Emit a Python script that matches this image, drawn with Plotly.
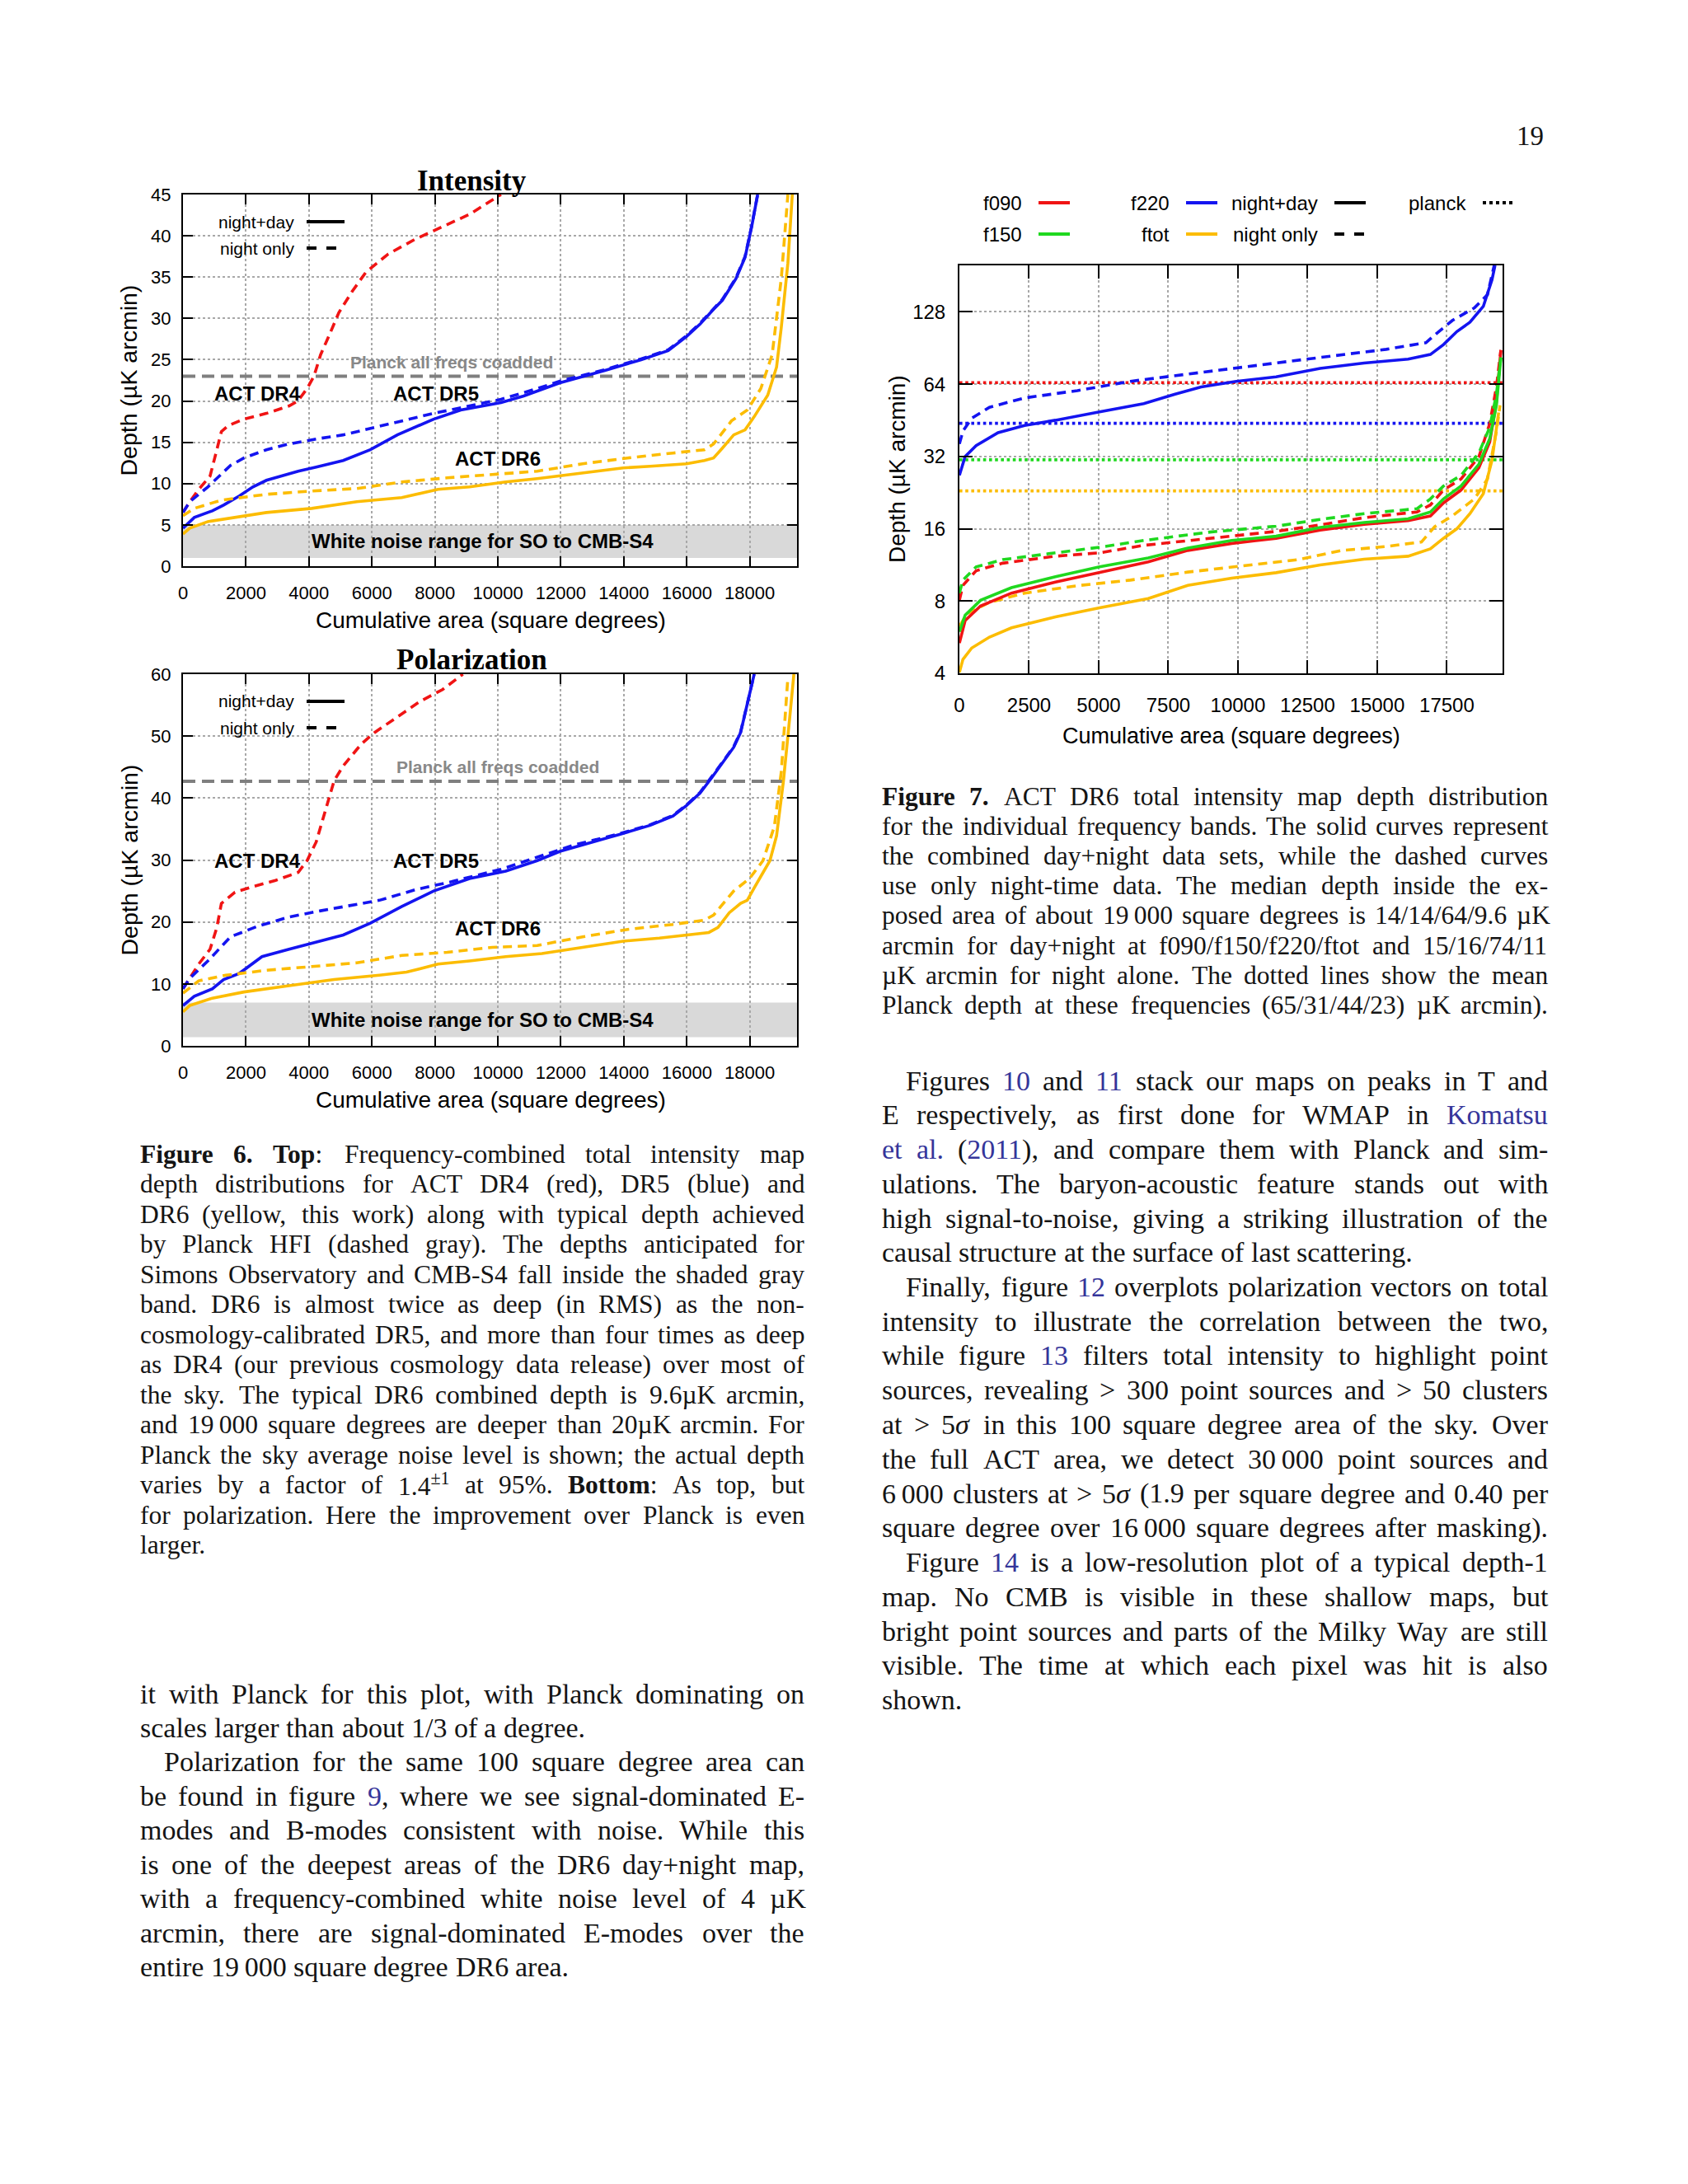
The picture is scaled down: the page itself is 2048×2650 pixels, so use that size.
import plotly.graph_objects as go
import math
import re

W, H = 2048, 2650
PAGE_OFFSET = 8  # the page body margin shifts the figure by this many pixels

# ---------------- Figure 6 top: Intensity ----------------
INT_DR4_NIGHT_X = [0, 215, 500, 860, 1075, 1220, 1430, 1935, 2650, 3370, 3650, 3940, 4160, 4370, 4660, 4950, 5380, 5810, 6520, 7380, 8240, 9100, 10100]
INT_DR4_NIGHT_Y = [6.5, 7.8, 9.3, 10.9, 14.1, 16.3, 17.0, 17.8, 18.5, 19.4, 20.0, 21.5, 23.0, 25.6, 28.1, 30.7, 33.3, 35.6, 37.8, 39.6, 41.1, 42.6, 45.0]

INT_DR5_ND_X = [0, 360, 930, 1290, 1790, 2220, 2650, 3660, 4230, 5090, 5950, 6810, 7960, 8820, 10100, 10820, 11970, 13400, 14550, 15410, 15990, 16420, 16850, 17130, 17560, 17850, 18060, 18250]
INT_DR5_ND_Y = [4.6, 5.9, 6.7, 7.4, 8.5, 9.6, 10.4, 11.5, 12.0, 12.8, 14.1, 15.9, 17.8, 18.9, 19.8, 20.6, 22.2, 23.7, 25.0, 26.1, 27.8, 29.3, 31.1, 32.2, 34.8, 37.4, 41.1, 45.0]

INT_DR5_NIGHT_X = [0, 215, 790, 1510, 1935, 2650, 3370, 4230, 5090, 5950, 6950, 7960, 9100, 10100, 11250, 11970, 13400, 14550, 15410, 15990, 16420, 16850, 17130, 17560, 17850, 18060, 18250]
INT_DR5_NIGHT_Y = [6.5, 7.8, 9.6, 12.2, 13.1, 14.1, 14.8, 15.4, 15.9, 16.7, 17.6, 18.5, 19.4, 20.2, 21.5, 22.4, 23.8, 25.1, 26.2, 27.9, 29.4, 31.2, 32.3, 34.9, 37.5, 41.2, 45.0]

INT_DR6_ND_X = [0, 215, 790, 1650, 2650, 4090, 5520, 6950, 8100, 9100, 10250, 11250, 12690, 13980, 14840, 15990, 16560, 16850, 17130, 17490, 17850, 18140, 18570, 18850, 19000, 19210, 19350]
INT_DR6_ND_Y = [3.9, 4.6, 5.4, 5.9, 6.5, 7.0, 7.8, 8.3, 9.3, 9.6, 10.2, 10.6, 11.3, 11.9, 12.1, 12.4, 12.8, 13.1, 14.3, 15.9, 16.5, 18.1, 20.7, 24.1, 28.9, 36.7, 45.0]

INT_DR6_NIGHT_X = [0, 360, 1220, 2650, 4090, 5520, 6950, 8390, 9820, 11250, 12690, 14120, 15560, 16560, 16850, 17420, 17920, 18350, 18710, 19000, 19210]
INT_DR6_NIGHT_Y = [6.1, 7.0, 8.0, 8.7, 9.1, 9.4, 10.2, 10.7, 11.1, 11.5, 12.4, 13.1, 13.7, 14.1, 14.8, 17.6, 18.9, 21.5, 25.6, 34.8, 45.0]

# ---------------- Figure 6 bottom: Polarization ----------------
POL_DR4_NIGHT_X = [0, 500, 860, 1075, 1220, 1650, 2220, 2940, 3660, 3940, 4230, 4590, 4800, 5090, 5660, 6090, 6810, 7530, 8240, 8890]
POL_DR4_NIGHT_Y = [9.2, 13.2, 15.6, 19.1, 23.0, 24.8, 25.7, 26.7, 28.0, 29.9, 32.9, 39.3, 42.8, 45.2, 48.7, 50.6, 53.1, 55.6, 57.5, 60.0]

POL_DR5_ND_X = [0, 360, 930, 1290, 1790, 2510, 3370, 4090, 5090, 5950, 6950, 7960, 9100, 10250, 11250, 11970, 12830, 13840, 14840, 15560, 15990, 16420, 16780, 17060, 17490, 17710, 17920, 18140]
POL_DR5_ND_Y = [6.5, 8.0, 9.2, 10.7, 11.7, 14.4, 15.6, 16.6, 17.9, 19.8, 22.5, 25.0, 27.0, 28.2, 29.9, 31.4, 32.6, 34.1, 35.6, 37.1, 38.8, 40.8, 43.2, 45.2, 48.2, 50.6, 55.1, 60.0]

POL_DR5_NIGHT_X = [0, 215, 790, 1510, 2370, 3370, 4370, 5520, 6240, 7380, 8530, 10100, 11400, 12400, 13840, 14840, 15560, 15990, 16420, 16780, 17060, 17490, 17710, 17920, 18140]
POL_DR5_NIGHT_Y = [9.2, 10.9, 13.7, 17.6, 19.3, 20.8, 21.8, 22.8, 23.5, 25.2, 26.5, 28.5, 30.7, 32.4, 34.2, 35.7, 37.2, 38.9, 40.9, 43.3, 45.3, 48.3, 50.7, 55.2, 60.0]

POL_DR6_ND_X = [0, 215, 930, 1935, 3370, 4800, 6240, 7100, 8100, 9100, 10250, 11400, 12690, 13980, 15130, 16130, 16700, 16990, 17350, 17710, 17920, 18140, 18640, 18850, 19070, 19280, 19400]
POL_DR6_ND_Y = [5.5, 6.5, 7.7, 8.7, 9.7, 10.7, 11.4, 11.9, 13.2, 13.7, 14.4, 14.9, 15.9, 16.9, 17.4, 17.9, 18.3, 19.1, 21.5, 23.0, 23.5, 25.5, 29.9, 33.9, 42.8, 53.6, 60.0]

POL_DR6_NIGHT_X = [0, 500, 1360, 2650, 4090, 5520, 6950, 8390, 9820, 11250, 12690, 14120, 15560, 16560, 16850, 17490, 17990, 18420, 18780, 19000, 19210]
POL_DR6_NIGHT_Y = [8.5, 10.5, 11.4, 12.2, 12.8, 13.4, 14.6, 15.1, 15.9, 16.2, 17.6, 18.8, 19.6, 20.3, 21.1, 25.0, 27.0, 29.9, 35.4, 44.2, 59.5]

PLANCK_INT = 23.0
PLANCK_POL = 42.7
NOISE_BAND_INT = [1.0, 5.0]
NOISE_BAND_POL = [1.4, 7.0]
AREA_MAX = 19500
AREA_TICKS_LEFT = [0, 2000, 4000, 6000, 8000, 10000, 12000, 14000, 16000, 18000]

# ---------------- Figure 7: frequency bands ----------------
F090_ND_X = [0, 206, 760, 1870, 3450, 5030, 6780, 8200, 9780, 11370, 12950, 14530, 16110, 16910, 17380, 18010, 18650, 19040, 19280, 19440]
F090_ND_Y = [5.35, 6.63, 7.63, 8.63, 9.6, 10.5, 11.65, 13.0, 13.9, 14.6, 15.8, 16.7, 17.3, 18.1, 20.5, 23.2, 28.7, 36.8, 54.0, 88.8]
F090_NIGHT_X = [0, 127, 600, 1550, 3450, 5030, 6620, 8990, 11370, 12950, 14530, 16430, 16910, 17380, 18010, 18650, 19040, 19280, 19440]
F090_NIGHT_Y = [8.06, 9.3, 10.7, 11.5, 12.3, 12.7, 13.65, 14.6, 15.6, 16.6, 17.8, 18.8, 20.1, 23.2, 25.8, 31.9, 43.8, 62.4, 88.8]

F150_ND_X = [0, 206, 760, 1870, 3450, 5030, 6780, 8200, 9780, 11370, 12950, 14530, 16110, 16910, 17380, 18010, 18650, 19040, 19280, 19440]
F150_ND_Y = [5.96, 6.98, 8.06, 9.1, 10.1, 11.1, 12.1, 13.3, 14.3, 14.9, 16.2, 17.0, 17.6, 18.8, 21.3, 24.1, 29.7, 38.0, 52.3, 82.7]
F150_NIGHT_X = [0, 127, 600, 1550, 3450, 5030, 6620, 8990, 11370, 12950, 14530, 16430, 16910, 17380, 18010, 18650, 19040, 19280, 19440]
F150_NIGHT_Y = [8.63, 9.78, 11.1, 11.9, 12.7, 13.4, 14.3, 15.5, 16.4, 17.5, 18.5, 19.4, 21.3, 24.1, 26.7, 33.1, 42.3, 58.2, 82.7]

F220_ND_X = [0, 206, 600, 1390, 2340, 3450, 5030, 6620, 7720, 8680, 9940, 11370, 12950, 14530, 16110, 16910, 17380, 17860, 18330, 18810, 19120, 19230]
F220_ND_Y = [26.7, 32.0, 35.5, 40.2, 43.1, 45.3, 49.1, 53.1, 58.1, 62.3, 65.8, 68.7, 74.5, 78.4, 81.4, 85.1, 93.6, 106, 116, 135, 174, 200]
F220_NIGHT_X = [0, 127, 443, 1080, 2340, 4240, 6140, 8200, 10570, 12950, 15320, 16750, 17060, 17700, 18490, 18960, 19200]
F220_NIGHT_Y = [36.1, 40.8, 46.2, 51.3, 56.1, 60.2, 65.8, 70.6, 76.6, 82.7, 89.4, 95.3, 102.5, 118, 133, 151, 200]

FTOT_ND_X = [0, 127, 443, 1080, 1870, 3450, 5030, 6780, 8200, 9780, 11370, 12950, 14530, 16110, 16910, 17380, 17860, 18330, 18810, 19120, 19360]
FTOT_ND_Y = [4.04, 4.57, 5.1, 5.66, 6.19, 6.87, 7.5, 8.2, 9.3, 9.96, 10.5, 11.3, 11.95, 12.3, 13.2, 14.6, 16.0, 18.5, 22.4, 30.8, 48.8]
FTOT_NIGHT_X = [0, 285, 1080, 2340, 4240, 6140, 8200, 10570, 12160, 13740, 15320, 16590, 17060, 17700, 18490, 18960, 19280, 19410]
FTOT_NIGHT_Y = [6.28, 7.1, 7.9, 8.63, 9.27, 9.78, 10.56, 11.3, 11.9, 13.0, 13.5, 14.1, 16.3, 18.1, 21.3, 25.8, 40.8, 52.3]

BANDS = ["f090", "f150", "f220", "ftot"]
PLANCK_BAND_DEPTH = [65, 31, 44, 23]
AREA_TICKS_RIGHT = [0, 2500, 5000, 7500, 10000, 12500, 15000, 17500]
DEPTH_TICKS_RIGHT = [4, 8, 16, 32, 64, 128]
DEPTH_RANGE_RIGHT = [4, 200]

RED, BLUE, GOLD, GREEN = "#f01414", "#1414f0", "#fcbc00", "#1fd81f"
BAND_COLORS = [RED, GREEN, BLUE, GOLD]
DASH = "11px,7px"

def px(x):
    return (x - PAGE_OFFSET) / W

def py(y):
    return 1 - (y - PAGE_OFFSET) / H

fig = go.Figure()

BOX1 = (222, 967, 236, 687)
BOX2 = (222, 967, 818, 1269)
BOX3 = (1164, 1823, 322, 817)

def dom(box):
    x0, x1, y0, y1 = box
    return [px(x0), px(x1)], [py(y1), py(y0)]

axis_common = dict(showline=True, linecolor="black", linewidth=2, mirror="allticks",
                   ticks="inside", tickcolor="black", tickwidth=2,
                   showgrid=True, gridcolor="#a8a8a8", griddash="dot", gridwidth=1.5,
                   zeroline=False, tickfont=dict(family="Liberation Sans", size=22, color="black"))

d1x, d1y = dom(BOX1)
d2x, d2y = dom(BOX2)
d3x, d3y = dom(BOX3)

fig.update_layout(
    width=W, height=H, margin=dict(l=0, r=0, t=0, b=0, pad=0, autoexpand=False),
    paper_bgcolor="white", plot_bgcolor="white", showlegend=False,
    xaxis=dict(domain=d1x, anchor="y", range=[0, AREA_MAX], tickvals=AREA_TICKS_LEFT,
               ticktext=[str(v) for v in AREA_TICKS_LEFT], ticklen=12, ticklabelstandoff=12, **axis_common),
    yaxis=dict(domain=d1y, anchor="x", range=[0, 45], dtick=5, ticklen=12, ticklabelstandoff=8, **axis_common),
    xaxis2=dict(domain=d2x, anchor="y2", range=[0, AREA_MAX], tickvals=AREA_TICKS_LEFT,
                ticktext=[str(v) for v in AREA_TICKS_LEFT], ticklen=12, ticklabelstandoff=12, **axis_common),
    yaxis2=dict(domain=d2y, anchor="x2", range=[0, 60], dtick=10, ticklen=12, ticklabelstandoff=8, **axis_common),
)
ax3 = dict(axis_common)
ax3["tickfont"] = dict(family="Liberation Sans", size=24, color="black")
fig.update_layout(
    xaxis3=dict(domain=d3x, anchor="y3", range=[0, AREA_MAX], tickvals=AREA_TICKS_RIGHT,
                ticktext=[str(v) for v in AREA_TICKS_RIGHT], ticklen=16, ticklabelstandoff=16, **ax3),
    yaxis3=dict(domain=d3y, anchor="x3", type="log", range=[math.log10(DEPTH_RANGE_RIGHT[0]), math.log10(DEPTH_RANGE_RIGHT[1])],
                tickvals=DEPTH_TICKS_RIGHT, ticktext=[str(v) for v in DEPTH_TICKS_RIGHT], ticklen=16, ticklabelstandoff=10, **ax3),
)

def line(x, y, color, dash=None, xa="x", ya="y", width=3.6):
    fig.add_trace(go.Scatter(x=x, y=y, mode="lines", xaxis=xa, yaxis=ya,
                             line=dict(color=color, width=width, dash=dash), hoverinfo="skip"))

def note(x, y, text, size, family="Liberation Sans", color="black", xanchor="center", yanchor="middle", angle=0, xref="paper", yref="paper"):
    fig.add_annotation(x=x, y=y, xref=xref, yref=yref, text=text, showarrow=False, xanchor=xanchor, yanchor=yanchor,
                       textangle=angle, font=dict(family=family, size=size, color=color), borderpad=0)

panels = [
    ("x", "y", BOX1, NOISE_BAND_INT, PLANCK_INT,
     [(INT_DR4_NIGHT_X, INT_DR4_NIGHT_Y, RED, DASH),
      (INT_DR5_NIGHT_X, INT_DR5_NIGHT_Y, BLUE, DASH),
      (INT_DR5_ND_X, INT_DR5_ND_Y, BLUE, None),
      (INT_DR6_NIGHT_X, INT_DR6_NIGHT_Y, GOLD, DASH),
      (INT_DR6_ND_X, INT_DR6_ND_Y, GOLD, None)],
     "Intensity", 219, [(2370, 20.9, "ACT DR4"), (8040, 20.9, "ACT DR5"), (10000, 13.0, "ACT DR6")], (8540, 24.7), 3.0, (269, 301), 752),
    ("x2", "y2", BOX2, NOISE_BAND_POL, PLANCK_POL,
     [(POL_DR4_NIGHT_X, POL_DR4_NIGHT_Y, RED, DASH),
      (POL_DR5_NIGHT_X, POL_DR5_NIGHT_Y, BLUE, DASH),
      (POL_DR5_ND_X, POL_DR5_ND_Y, BLUE, None),
      (POL_DR6_NIGHT_X, POL_DR6_NIGHT_Y, GOLD, DASH),
      (POL_DR6_ND_X, POL_DR6_ND_Y, GOLD, None)],
     "Polarization", 800, [(2370, 29.9, "ACT DR4"), (8040, 29.9, "ACT DR5"), (10000, 19.0, "ACT DR6")], (10000, 45.0), 4.2, (851, 883), 1334),
]

for xa, ya, box, band, planck, curves, title, ty, labels, plabel, bandtext_y, legy, xt_y in panels:
    xr = xa + " domain"
    fig.add_shape(type="rect", xref=xr, yref=ya, x0=0, x1=1, y0=band[0], y1=band[1],
                  fillcolor="#d9d9d9", line=dict(width=0), layer="below")
    fig.add_shape(type="rect", xref="paper", yref="paper", x0=px(box[0] + 2), x1=px(box[0] + 215),
                  y0=py(box[2] + 80), y1=py(box[2] + 2), fillcolor="white", line=dict(width=0), layer="between")
    fig.add_trace(go.Scatter(x=[0, AREA_MAX], y=[planck, planck], mode="lines", xaxis=xa, yaxis=ya,
                             line=dict(color="#7f7f7f", width=4, dash="15px,8px"), hoverinfo="skip"))
    for cx, cy, col, dsh in curves:
        line(cx, cy, col, dsh, xa, ya)
    note(plabel[0], plabel[1], "<b>Planck all freqs coadded</b>", 21, color="#888888", xref=xa, yref=ya)
    note(9510, bandtext_y, "<b>White noise range for SO to CMB-S4</b>", 24, xref=xa, yref=ya)
    for lx, ly, lt in labels:
        note(lx, ly, "<b>" + lt + "</b>", 24, xref=xa, yref=ya)
    note(px(572), py(ty), "<b>" + title + "</b>", 35, family="Liberation Serif")
    note(px(595), py(xt_y), "Cumulative area (square degrees)", 28)
    note(px(156), py((box[2] + box[3]) / 2), "Depth (µK arcmin)", 28.5, angle=-90)
    for (lab, dsh), yy in zip([("night+day", None), ("night only", "dash")], legy):
        note(px(358), py(yy), lab, 21, xanchor="right")
        fig.add_shape(type="line", xref="paper", yref="paper", x0=px(372), x1=px(418), y0=py(yy), y1=py(yy),
                      line=dict(color="black", width=4, dash=dsh))

right_curves = [
    (F220_NIGHT_X, F220_NIGHT_Y, BLUE, DASH), (F220_ND_X, F220_ND_Y, BLUE, None),
    (FTOT_NIGHT_X, FTOT_NIGHT_Y, GOLD, DASH), (FTOT_ND_X, FTOT_ND_Y, GOLD, None),
    (F090_NIGHT_X, F090_NIGHT_Y, RED, DASH), (F090_ND_X, F090_ND_Y, RED, None),
    (F150_NIGHT_X, F150_NIGHT_Y, GREEN, DASH), (F150_ND_X, F150_ND_Y, GREEN, None),
]
for band_name, depth, col in zip(BANDS, PLANCK_BAND_DEPTH, BAND_COLORS):
    fig.add_trace(go.Scatter(x=[0, AREA_MAX], y=[depth, depth], mode="lines", xaxis="x3", yaxis="y3",
                             line=dict(color=col, width=3.6, dash="dot"), hoverinfo="skip"))
for cx, cy, col, dsh in right_curves:
    line(cx, cy, col, dsh, "x3", "y3")
fig.add_trace(go.Scatter(x=[AREA_MAX * 1.022] * len(BANDS), y=PLANCK_BAND_DEPTH, mode="markers", xaxis="x3", yaxis="y3",
                         marker=dict(symbol="triangle-left", size=15, color=BAND_COLORS, line=dict(width=0)),
                         cliponaxis=False, hoverinfo="skip"))

note(px(1494), py(893), "Cumulative area (square degrees)", 27)
note(px(1088), py(569), "Depth (µK arcmin)", 28, angle=-90)

leg_items = [
    ("f090", 1241, 246, RED, None), ("f150", 1241, 284, GREEN, None),
    ("f220", 1420, 246, BLUE, None), ("ftot", 1420, 284, GOLD, None),
    ("night+day", 1600, 246, "black", None), ("night only", 1600, 284, "black", "dash"),
    ("planck", 1780, 246, "black", "dot"),
]
for lab, xr_, yy, col, dsh in leg_items:
    note(px(xr_), py(yy), lab, 24, xanchor="right")
    fig.add_shape(type="line", xref="paper", yref="paper", x0=px(xr_ + 19), x1=px(xr_ + 57), y0=py(yy), y1=py(yy),
                  line=dict(color=col, width=4, dash=dsh))

# ---------------- page text (justified, word by word) ----------------
LINK = "#35359a"
LK_OPEN, LK_CLOSE = "\x01", "\x02"

def lk(t):
    return LK_OPEN + t + LK_CLOSE

TS = "\u2009"  # thin space inside large numbers

# (indent, paragraph-final, text)
CAPTION6 = [
    (0, 0, "<b>Figure</b> <b>6.</b> <b>Top</b>: Frequency-combined total intensity map"),
    (0, 0, "depth distributions for ACT DR4 (red), DR5 (blue) and"),
    (0, 0, "DR6 (yellow, this work) along with typical depth achieved"),
    (0, 0, "by Planck HFI (dashed gray). The depths anticipated for"),
    (0, 0, "Simons Observatory and CMB-S4 fall inside the shaded gray"),
    (0, 0, "band. DR6 is almost twice as deep (in RMS) as the non-"),
    (0, 0, "cosmology-calibrated DR5, and more than four times as deep"),
    (0, 0, "as DR4 (our previous cosmology data release) over most of"),
    (0, 0, "the sky. The typical DR6 combined depth is 9.6µK arcmin,"),
    (0, 0, "and 19" + TS + "000 square degrees are deeper than 20µK arcmin. For"),
    (0, 0, "Planck the sky average noise level is shown; the actual depth"),
    (0, 0, "varies by a factor of 1.4<sup>±1</sup> at 95%. <b>Bottom</b>: As top, but"),
    (0, 0, "for polarization. Here the improvement over Planck is even"),
    (0, 1, "larger."),
]
CAPTION7 = [
    (0, 0, "<b>Figure</b> <b>7.</b> ACT DR6 total intensity map depth distribution"),
    (0, 0, "for the individual frequency bands. The solid curves represent"),
    (0, 0, "the combined day+night data sets, while the dashed curves"),
    (0, 0, "use only night-time data. The median depth inside the ex-"),
    (0, 0, "posed area of about 19" + TS + "000 square degrees is 14/14/64/9.6 µK"),
    (0, 0, "arcmin for day+night at f090/f150/f220/ftot and 15/16/74/11"),
    (0, 0, "µK arcmin for night alone. The dotted lines show the mean"),
    (0, 0, "Planck depth at these frequencies (65/31/44/23) µK arcmin)."),
]
BODY_RIGHT = [
    (1, 0, "Figures " + lk("10") + " and " + lk("11") + " stack our maps on peaks in T and"),
    (0, 0, "E respectively, as first done for WMAP in " + lk("Komatsu")),
    (0, 0, lk("et") + " " + lk("al.") + " (" + lk("2011") + "), and compare them with Planck and sim-"),
    (0, 0, "ulations. The baryon-acoustic feature stands out with"),
    (0, 0, "high signal-to-noise, giving a striking illustration of the"),
    (0, 1, "causal structure at the surface of last scattering."),
    (1, 0, "Finally, figure " + lk("12") + " overplots polarization vectors on total"),
    (0, 0, "intensity to illustrate the correlation between the two,"),
    (0, 0, "while figure " + lk("13") + " filters total intensity to highlight point"),
    (0, 0, "sources, revealing > 300 point sources and > 50 clusters"),
    (0, 0, "at > 5<i>σ</i> in this 100 square degree area of the sky. Over"),
    (0, 0, "the full ACT area, we detect 30" + TS + "000 point sources and"),
    (0, 0, "6" + TS + "000 clusters at > 5<i>σ</i> (1.9 per square degree and 0.40 per"),
    (0, 0, "square degree over 16" + TS + "000 square degrees after masking)."),
    (1, 0, "Figure " + lk("14") + " is a low-resolution plot of a typical depth-1"),
    (0, 0, "map. No CMB is visible in these shallow maps, but"),
    (0, 0, "bright point sources and parts of the Milky Way are still"),
    (0, 0, "visible. The time at which each pixel was hit is also"),
    (0, 1, "shown."),
]
BODY_LEFT = [
    (0, 0, "it with Planck for this plot, with Planck dominating on"),
    (0, 1, "scales larger than about 1/3 of a degree."),
    (1, 0, "Polarization for the same 100 square degree area can"),
    (0, 0, "be found in figure " + lk("9") + ", where we see signal-dominated E-"),
    (0, 0, "modes and B-modes consistent with noise. While this"),
    (0, 0, "is one of the deepest areas of the DR6 day+night map,"),
    (0, 0, "with a frequency-combined white noise level of 4 µK"),
    (0, 0, "arcmin, there are signal-dominated E-modes over the"),
    (0, 1, "entire 19" + TS + "000 square degree DR6 area."),
]

# Times / Liberation Serif advance widths (per em)
_REG = {" ": .25, "!": .333, "%": .833, "(": .333, ")": .333, "+": .564, ",": .25, "-": .333, ".": .25, "/": .278,
        ":": .278, ";": .278, ">": .564, "<": .564, "=": .564, "?": .444, "µ": .5, "±": .549, "σ": .55, TS: .2,
        "A": .722, "B": .667, "C": .667, "D": .722, "E": .611, "F": .556, "G": .722, "H": .722, "I": .333, "J": .389,
        "K": .722, "L": .611, "M": .889, "N": .722, "O": .722, "P": .556, "Q": .722, "R": .667, "S": .556, "T": .611,
        "U": .722, "V": .722, "W": .944, "X": .722, "Y": .722, "Z": .611,
        "a": .444, "b": .5, "c": .444, "d": .5, "e": .444, "f": .333, "g": .5, "h": .5, "i": .278, "j": .278, "k": .5,
        "l": .278, "m": .778, "n": .5, "o": .5, "p": .5, "q": .5, "r": .333, "s": .389, "t": .278, "u": .5, "v": .5,
        "w": .722, "x": .5, "y": .5, "z": .444, LK_OPEN: 0.0, LK_CLOSE: 0.0}
_BOLD = {"F": .611, "T": .667, "B": .667, "i": .278, "g": .5, "u": .556, "r": .444, "e": .444, "o": .5, "p": .556,
         "t": .333, "m": .833, ".": .25, ":": .333}

def word_width(word, size):
    bold = sup = False
    w = 0.0
    for part in re.split(r"(<[^>]+>)", word):
        if part.startswith("<"):
            tag = part.lower()
            if tag == "<b>":
                bold = True
            elif tag == "</b>":
                bold = False
            elif tag == "<sup>":
                sup = True
            elif tag == "</sup>":
                sup = False
            continue
        for ch in part:
            cw = _REG.get(ch, 0.5)
            if bold:
                cw = _BOLD.get(ch, cw * 1.05)
            if sup:
                cw *= 0.7
            w += cw
    return w * size

def to_html(word):
    return word.replace(LK_OPEN, '<span style="color:%s">' % LINK).replace(LK_CLOSE, "</span>")

def text_block(lines, x0, col_w, y0, dy, size):
    for i, (ind, final, t) in enumerate(lines):
        words = [w for w in t.split(" ") if w]
        left = x0 + 29 * ind
        avail = col_w - 29 * ind
        widths = [word_width(w, size) for w in words]
        sp = 0.25 * size
        if final or len(words) < 2:
            gap = sp
        else:
            gap = max((avail - sum(widths)) / (len(words) - 1), 0.6 * sp)
        x = left
        y = py(y0 + dy * i)
        for w, ww in zip(words, widths):
            note(px(x), y, to_html(w), size, family="Liberation Serif", color="#141414", xanchor="left")
            x += ww + gap

text_block(CAPTION6, 169, 806, 1400, 36.5, 31.5)
text_block(CAPTION7, 1069, 808, 966, 36.2, 31.5)
text_block(BODY_RIGHT, 1069, 808, 1311, 41.75, 34)
text_block(BODY_LEFT, 169, 806, 2055, 41.45, 34)

note(px(1874), py(165), "19", 33, family="Liberation Serif", color="#141414", xanchor="right")

fig.write_html("out.html")
